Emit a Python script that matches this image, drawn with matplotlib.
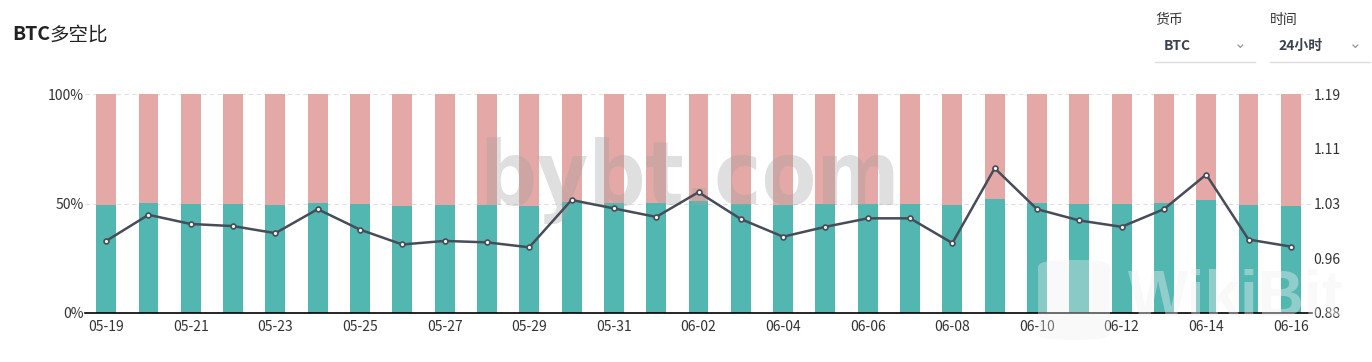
import matplotlib
matplotlib.use('Agg')
import matplotlib.pyplot as plt
from matplotlib.patches import FancyBboxPatch
import numpy as np

plt.rcParams['font.family'] = ['Noto Sans CJK SC', 'DejaVu Sans']

# 数据
dates = ['05-19', '05-20', '05-21', '05-22', '05-23', '05-24', '05-25', '05-26',
         '05-27', '05-28', '05-29', '05-30', '05-31', '06-01', '06-02', '06-03',
         '06-04', '06-05', '06-06', '06-07', '06-08', '06-09', '06-10', '06-11',
         '06-12', '06-13', '06-14', '06-15', '06-16']
long_pct = [49.3, 50.2, 49.8, 49.8, 49.5, 50.2, 49.8, 49.0, 49.3, 49.3, 49.0, 50.8,
            50.2, 50.1, 51.1, 49.8, 49.5, 49.8, 49.9, 49.9, 49.3, 51.9, 50.2, 49.9,
            49.8, 50.2, 51.8, 49.3, 49.0]
ratio = [0.982, 1.019, 1.006, 1.003, 0.993, 1.027, 0.998, 0.977, 0.982, 0.980,
         0.973, 1.040, 1.028, 1.016, 1.051, 1.013, 0.988, 1.002, 1.014, 1.014,
         0.979, 1.085, 1.027, 1.011, 1.002, 1.027, 1.076, 0.984, 0.974]
short_pct = [100 - v for v in long_pct]

GREEN = '#53b7b1'
PINK = '#e4a9a7'
LINE = '#474c59'
TXT = '#333333'

fig = plt.figure(figsize=(13.72, 3.62), dpi=100)
ax = fig.add_axes([85 / 1372, 1 - 313 / 362, 1227 / 1372, 219 / 362])

x = np.arange(len(dates))
ax.bar(x, long_pct, width=0.47, color=GREEN, zorder=2)
ax.bar(x, short_pct, width=0.47, bottom=long_pct, color=PINK, zorder=2)

ax.set_xlim(-0.5, len(dates) - 0.5)
ax.set_ylim(0, 100)
ax.set_yticks([0, 50, 100])
ax.set_yticklabels(['0%', '50%', '100%'])
ax.set_xticks(x[::2])
ax.set_xticklabels(dates[::2])
ax.tick_params(axis='x', length=0, pad=5, labelsize=10, labelcolor=TXT)
ax.tick_params(axis='y', length=0, pad=1, labelsize=10, labelcolor=TXT)
for s in ['top', 'left', 'right']:
    ax.spines[s].set_visible(False)
ax.spines['bottom'].set_color('#000000')
ax.spines['bottom'].set_linewidth(1.2)
ax.spines['bottom'].set_zorder(5)
ax.grid(axis='y', color='#e0e0e0', linestyle=(0, (4, 3)), linewidth=0.8, zorder=0)

# 水印 bybt.com（在柱子之上、折线之下）
ax.text(690 / 1372, 1 - 180 / 362, 'bybt.com', transform=fig.transFigure,
        fontsize=64, fontweight='bold', fontstretch='condensed', color='#a0a0a0',
        alpha=0.33, ha='center', va='center', family='DejaVu Sans', zorder=3)

# 右轴：多空比
ax2 = ax.twinx()
ax2.set_ylim(0.88, 1.19)
ax2.set_yticks(np.linspace(0.88, 1.19, 5))
ax2.set_yticklabels([f'{v:.2f}' for v in [0.88, 0.96, 1.03, 1.11, 1.19]])
ax2.tick_params(axis='y', length=0, pad=1, labelsize=10, labelcolor=TXT)
for s in ax2.spines.values():
    s.set_visible(False)
ax2.plot(x, ratio, color=LINE, linewidth=1.8, marker='o', markersize=3.5,
         markerfacecolor='white', markeredgecolor=LINE, markeredgewidth=1.2, zorder=4)

# WikiBit 水印
fig.patches.append(FancyBboxPatch((1038 / 1372, 1 - 340 / 362), 72 / 1372, 80 / 362,
                                  boxstyle='round,pad=0,rounding_size=0.02',
                                  transform=fig.transFigure, facecolor='#f0f0f0',
                                  edgecolor='none', alpha=0.35, zorder=10))
fig.text(1128 / 1372, 1 - 299 / 362, 'WikiBit', fontsize=46, fontweight='bold',
         color='#f0f0f0', alpha=0.4, ha='left', va='center',
         family=['Liberation Sans', 'DejaVu Sans'], zorder=10)

# 标题与选择框
fig.text(12 / 1372, 1 - 35 / 362, 'BTC', fontsize=14, fontweight='bold',
         color='#222222', ha='left', va='center')
fig.text(50 / 1372, 1 - 35 / 362, '多空比', fontsize=14, color='#222222',
         ha='left', va='center')

fig.text(1155 / 1372, 1 - 20 / 362, '货币', fontsize=10, color=TXT, ha='left', va='center')
fig.text(1164 / 1372, 1 - 46 / 362, 'BTC', fontsize=10, fontweight='bold',
         color='#3a4150', ha='left', va='center')
fig.text(1240 / 1372, 1 - 44 / 362, '⌄', fontsize=11, color='#999999',
         ha='center', va='center', family='DejaVu Sans')
fig.add_artist(plt.Line2D([1155 / 1372, 1255 / 1372], [1 - 62 / 362, 1 - 62 / 362],
                          color='#dddddd', linewidth=1, transform=fig.transFigure))

fig.text(1270 / 1372, 1 - 20 / 362, '时间', fontsize=10, color=TXT, ha='left', va='center')
fig.text(1278 / 1372, 1 - 46 / 362, '24小时', fontsize=10, fontweight='bold',
         color='#3a4150', ha='left', va='center')
fig.text(1355 / 1372, 1 - 44 / 362, '⌄', fontsize=11, color='#999999',
         ha='center', va='center', family='DejaVu Sans')
fig.add_artist(plt.Line2D([1270 / 1372, 1370 / 1372], [1 - 62 / 362, 1 - 62 / 362],
                          color='#dddddd', linewidth=1, transform=fig.transFigure))

fig.savefig('out.png', dpi=100, facecolor='white')
